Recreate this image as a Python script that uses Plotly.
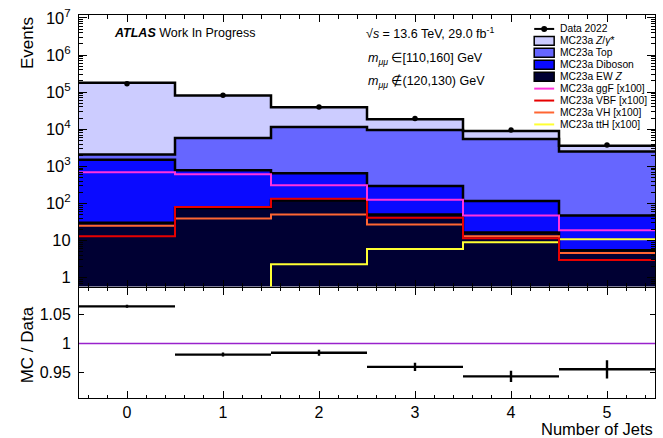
import numpy as np
import plotly.graph_objects as go

# ---------------- data ----------------
n_jets = [0, 1, 2, 3, 4, 5]
data_2022 = [169300, 82600, 39600, 19400, 9530, 3770]
mc_z_gamma = [177900, 75230, 27470, 9124, 3496, 1104]
mc_top = [600, 5020, 10850, 9205, 5383, 2453]
mc_diboson = [1470, 705, 530, 245, 100, 41.5]
mc_ew_z = [30, 75, 120, 50, 16.5, 5.5]
sig_ggf = [690, 610, 310, 125, 47, 19]
sig_vbf = [13, 80, 133, 41, 11.5, 3]
sig_vh = [25, 39, 50, 27, 13, 4.6]
sig_tth = [0, 0, 2.3, 5.9, 9, 10.8]
y_tick_vals = [1, 10, 100, 1e3, 1e4, 1e5, 1e6, 1e7]
y_tick_text = ["1", "10", "10<sup>2</sup>", "10<sup>3</sup>", "10<sup>4</sup>",
               "10<sup>5</sup>", "10<sup>6</sup>", "10<sup>7</sup>"]
ratio_tick_vals = [0.95, 1.0, 1.05]
ratio_tick_text = ["0.95", "1", "1.05"]

# ---------------- derived ----------------
n = np.array(n_jets, dtype=float)
edges = np.concatenate([n - 0.5, [n[-1] + 0.5]])
half_w = np.diff(edges) / 2
data = np.array(data_2022, dtype=float)
c1 = np.array(mc_ew_z, dtype=float)
c2 = c1 + np.array(mc_diboson)
c3 = c2 + np.array(mc_top)
c4 = c3 + np.array(mc_z_gamma)
ratio = c4 / data
ratio_err = ratio / np.sqrt(data)

FLOOR = 1e-3


def step(v):
    v = np.maximum(np.asarray(v, dtype=float), FLOOR)
    return list(v) + [v[-1]]


FONT = "Liberation Sans, Arial, Helvetica, sans-serif"
COL_Z = "#ccccff"
COL_TOP = "#6666ff"
COL_DIB = "#0a0aff"
COL_EWZ = "#000033"
COL_GGF = "#ff33dd"
COL_VBF = "#e60000"
COL_VH = "#ff6633"
COL_TTH = "#ffff33"

fig = go.Figure()
# baseline for stacked fills
fig.add_trace(go.Scatter(x=edges, y=step([FLOOR] * 6), mode="lines",
                         line=dict(shape="hv", width=0), showlegend=False,
                         hoverinfo="skip"))
for cum, col in [(c1, COL_EWZ), (c2, COL_DIB), (c3, COL_TOP), (c4, COL_Z)]:
    fig.add_trace(go.Scatter(x=edges, y=step(cum), mode="lines",
                             line=dict(shape="hv", color="black", width=2.5),
                             fill="tonexty", fillcolor=col, showlegend=False))
for vals, col in [(sig_tth, COL_TTH), (sig_vh, COL_VH), (sig_vbf, COL_VBF), (sig_ggf, COL_GGF)]:
    fig.add_trace(go.Scatter(x=edges, y=step(vals), mode="lines",
                             line=dict(shape="hv", color=col, width=2),
                             showlegend=False))
fig.add_trace(go.Scatter(x=n, y=data, mode="markers",
                         marker=dict(color="black", size=5.5),
                         error_y=dict(type="data", array=np.sqrt(data), color="black",
                                      thickness=1.5, width=0),
                         showlegend=False))
# ratio panel
fig.add_trace(go.Scatter(x=n, y=ratio, xaxis="x2", yaxis="y2", mode="markers",
                         marker=dict(color="black", size=1),
                         error_x=dict(type="data", array=half_w, color="black",
                                      thickness=2.4, width=0),
                         error_y=dict(type="data", array=ratio_err, color="black",
                                      thickness=2.4, width=0),
                         showlegend=False))

# reference line at 1
fig.add_shape(type="line", xref="x2", yref="y2", x0=edges[0], x1=edges[-1], y0=1, y1=1,
              line=dict(color="#9922cc", width=1.5))

# ---------------- axes ----------------
xcommon = dict(range=[edges[0], edges[-1]], showline=True, linecolor="black", linewidth=1,
               mirror="allticks", ticks="inside", ticklen=7, tickcolor="black",
               tickmode="linear", dtick=1, tick0=0,
               minor=dict(ticks="inside", ticklen=3.5, dtick=0.2, tick0=0, tickcolor="black"),
               showgrid=False, zeroline=False)
minor_log = [k * 10 ** d for d in range(-1, 7) for k in range(2, 10)]
fig.update_layout(
    width=663, height=438,
    margin=dict(l=79, r=7, t=13, b=40),
    paper_bgcolor="white", plot_bgcolor="white",
    font=dict(family=FONT, color="black", size=16),
    showlegend=False,
    xaxis=dict(**xcommon, anchor="y", showticklabels=False),
    xaxis2=dict(**xcommon, anchor="y2", matches="x", tickfont=dict(size=16),
                ticklabelstandoff=0),
    yaxis=dict(type="log", range=[-0.24, 7.08], domain=[0.291, 1.0],
               tickmode="array", tickvals=y_tick_vals, ticktext=y_tick_text,
               ticks="inside", ticklen=8, tickcolor="black",
               minor=dict(ticks="inside", ticklen=4, tickvals=minor_log, tickcolor="black"),
               showline=True, linecolor="black", linewidth=1, mirror="allticks",
               showgrid=False, zeroline=False, ticklabelstandoff=4,
               tickfont=dict(size=16.5), anchor="x"),
    yaxis2=dict(range=[0.907, 1.095], domain=[0.0, 0.288],
                tickmode="array", tickvals=ratio_tick_vals, ticktext=ratio_tick_text,
                ticks="inside", ticklen=5, tickcolor="black",
                showline=True, linecolor="black", linewidth=1, mirror="allticks",
                showgrid=False, zeroline=False, ticklabelstandoff=4,
                tickfont=dict(size=16), anchor="x2"),
)

# ---------------- titles & texts ----------------
W, H, L, T, B = 663, 438, 79, 13, 40
pw, ph = W - L - 7, H - T - B


def px(xp):
    return (xp - L) / pw


def py(yp):
    return (H - B - yp) / ph


ann = []
ann.append(dict(text="Events", x=px(27), y=1.0, xanchor="center", yanchor="top",
                textangle=-90, font=dict(size=17)))
ann.append(dict(text="MC / Data", x=px(27), y=py(345), xanchor="center", yanchor="middle",
                textangle=-90, font=dict(size=17)))
ann.append(dict(text="Number of Jets", x=1.0, y=py(429), xanchor="right", yanchor="middle",
                font=dict(size=16.5)))
ann.append(dict(text="<b><i>ATLAS</i></b> Work In Progress", x=px(112), y=py(31),
                xanchor="left", yanchor="middle", font=dict(size=12.5)))
ann.append(dict(text="√<i>s</i> = 13.6 TeV, 29.0 fb<sup>-1</sup>",
                x=px(364), y=py(31), xanchor="left", yanchor="middle", font=dict(size=12.5)))
ann.append(dict(text="<i>m</i><sub><i>μμ</i></sub> ∈[110,160] GeV", x=px(366), y=py(57),
                xanchor="left", yanchor="middle", font=dict(size=12.5)))
ann.append(dict(text="<i>m</i><sub><i>μμ</i></sub> ∉(120,130) GeV", x=px(366), y=py(80),
                xanchor="left", yanchor="middle", font=dict(size=12.5)))

# manual legend
legend_items = [
    ("data", "black", "Data 2022"),
    ("box", COL_Z, "MC23a <i>Z</i>/<i>γ</i>*"),
    ("box", COL_TOP, "MC23a Top"),
    ("box", COL_DIB, "MC23a Diboson"),
    ("box", COL_EWZ, "MC23a EW <i>Z</i>"),
    ("line", COL_GGF, "MC23a ggF [x100]"),
    ("line", COL_VBF, "MC23a VBF [x100]"),
    ("line", COL_VH, "MC23a VH [x100]"),
    ("line", COL_TTH, "MC23a ttH [x100]"),
]
shapes = []
lx0, lx1, ltx = 535, 555, 559
for i, (kind, col, label) in enumerate(legend_items):
    yc = 27 + 12 * i
    if kind == "box":
        shapes.append(dict(type="rect", xref="paper", yref="paper",
                           x0=px(lx0), x1=px(lx1), y0=py(yc + 4.5), y1=py(yc - 4.5),
                           fillcolor=col, line=dict(color="black", width=1.5)))
    elif kind == "line":
        shapes.append(dict(type="line", xref="paper", yref="paper",
                           x0=px(lx0), x1=px(lx1), y0=py(yc), y1=py(yc),
                           line=dict(color=col, width=2)))
    else:
        shapes.append(dict(type="line", xref="paper", yref="paper",
                           x0=px(lx0), x1=px(lx1), y0=py(yc), y1=py(yc),
                           line=dict(color="black", width=2)))
        shapes.append(dict(type="circle", xref="paper", yref="paper",
                           x0=px(542), x1=px(548), y0=py(yc + 3), y1=py(yc - 3),
                           fillcolor="black", line=dict(color="black", width=0)))
    ann.append(dict(text=label, x=px(ltx), y=py(yc), xanchor="left", yanchor="middle",
                    font=dict(size=10.3)))

for a in ann:
    a.setdefault("xref", "paper")
    a.setdefault("yref", "paper")
    a["showarrow"] = False
fig.update_layout(annotations=ann)
for s in shapes:
    fig.add_shape(**s)

fig.write_html("out.html")
